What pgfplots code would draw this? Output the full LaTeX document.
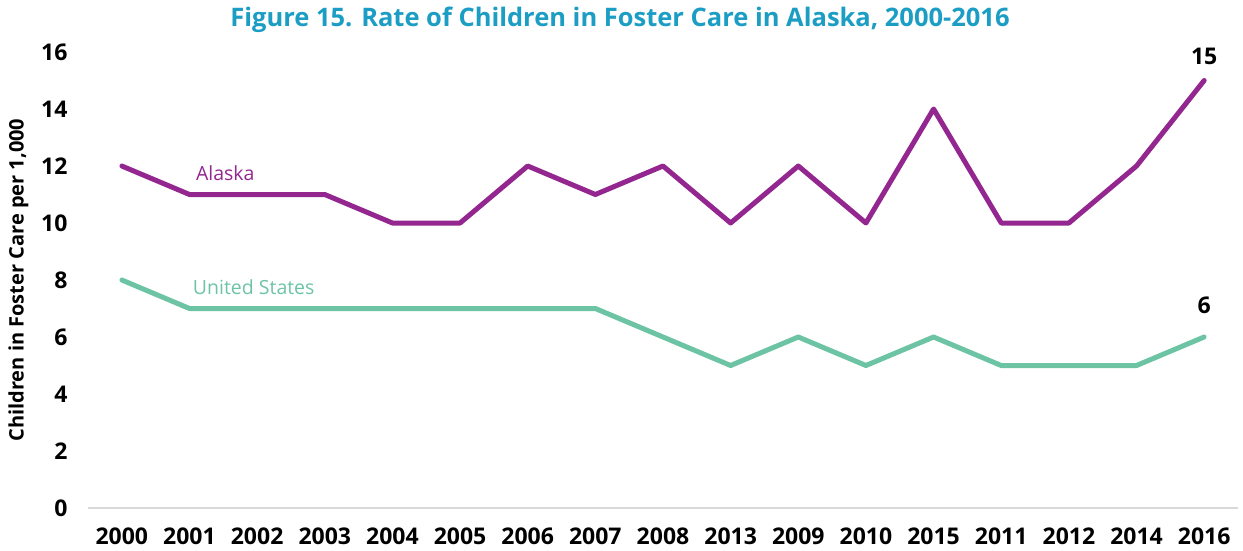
\documentclass[border=0pt]{standalone}
\usepackage{pgfplots}
\pgfplotsset{compat=1.18}
\usepackage{fontspec}
\setmainfont{Open Sans}
\definecolor{ak}{HTML}{93278F}
\definecolor{us}{HTML}{6CC4A4}
\definecolor{ttl}{HTML}{1B9DC4}
\begin{document}
\begin{tikzpicture}
\begin{axis}[
  scale only axis,
  width=1150pt, height=456pt,
  xmin=-0.5, xmax=16.5, ymin=0, ymax=16,
  xtick={0,...,16},
  xticklabels={2000,2001,2002,2003,2004,2005,2006,2007,2008,2013,2009,2010,2015,2011,2012,2014,2016},
  ytick={0,2,...,16},
  axis x line*=bottom,
  axis y line*=left,
  x axis line style={draw=black!15, line width=1.2pt, -},
  y axis line style={draw=none},
  major tick length=0pt,
  tick label style={font=\fontsize{23}{26}\selectfont\bfseries},
  /pgf/number format/assume math mode=true,
  xticklabel style={yshift=-16pt},
  yticklabel style={xshift=-17pt},
  ylabel={Children in Foster Care per 1,000},
  ylabel style={font=\fontsize{20}{22}\selectfont\bfseries, yshift=6pt},
  clip=false,
]
\addplot[color=ak, line width=5pt, line join=round, line cap=round] coordinates {
(0,12)(1,11)(2,11)(3,11)(4,10)(5,10)(6,12)(7,11)(8,12)(9,10)(10,12)(11,10)(12,14)(13,10)(14,10)(15,12)(16,15)};
\addplot[color=us, line width=5pt, line join=round, line cap=round] coordinates {
(0,8)(1,7)(2,7)(3,7)(4,7)(5,7)(6,7)(7,7)(8,6)(9,5)(10,6)(11,5)(12,6)(13,5)(14,5)(15,5)(16,6)};
\node[color=ak, font=\fontsize{19.5}{22}\selectfont] at (axis cs:1.53,11.75) {Alaska};
\node[color=us, font=\fontsize{19.5}{22}\selectfont] at (axis cs:1.95,7.75) {United States};
\node[font=\fontsize{23}{26}\selectfont\bfseries] at (axis cs:16,15.85) {15};
\node[font=\fontsize{23}{26}\selectfont\bfseries] at (axis cs:16,7.1) {6};
\node[color=ttl, font=\fontsize{25.5}{28}\selectfont\bfseries] at ([yshift=32pt]rel axis cs:0.4626,1) {Figure 15. Rate of Children in Foster Care in Alaska, 2000-2016};
\end{axis}
\pgfresetboundingbox
\path (current axis.south west) ++(-88pt,-42pt) rectangle ++(1243pt,550pt);
\end{tikzpicture}
\end{document}
